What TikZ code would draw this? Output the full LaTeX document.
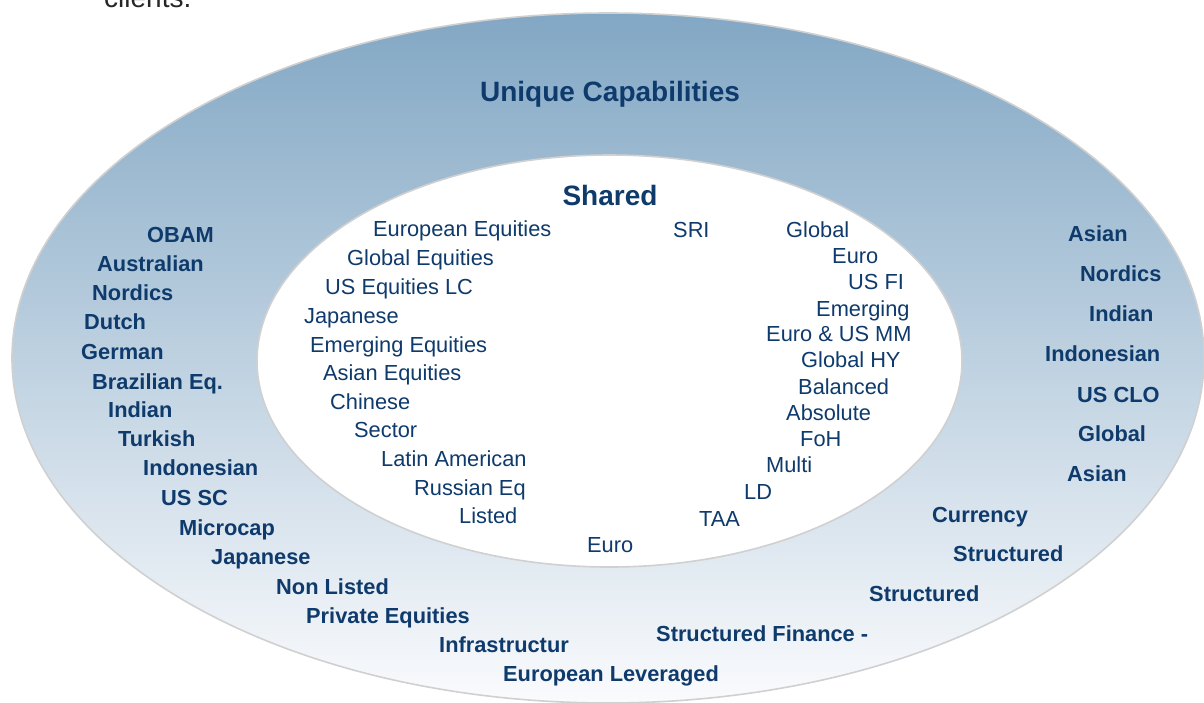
\documentclass[tikz,border=0pt]{standalone}
\usepackage{fontspec}
\setmainfont{Liberation Sans}
\usepackage{tikz}
\usetikzlibrary{positioning}
\definecolor{navy}{RGB}{14,58,108}
\definecolor{ringtop}{RGB}{130,167,196}
\definecolor{ringbot}{RGB}{250,251,253}
\definecolor{rim}{RGB}{208,208,208}
\tikzset{
    %Define style for the two rings
    ring/.style={
           draw=rim,
           line width=1.6pt},
    %Define style for labels
    innerlbl/.style={
           anchor=base west,
           inner sep=0pt,
           yshift=-7.8pt,
           text=navy,
           font=\fontsize{21.8}{24}\selectfont},
    outerlbl/.style={
           innerlbl,
           font=\fontsize{21.8}{24}\selectfont\bfseries},
    titlelbl/.style={
           anchor=base,
           inner sep=0pt,
           yshift=-10pt,
           text=navy,
           font=\fontsize{28}{32}\selectfont\bfseries}
}
\begin{document}
\begin{tikzpicture}[x=1pt,y=-1pt]
\clip (0,0) rectangle (1204,702);
\node[anchor=base west,inner sep=0pt,text={rgb,255:red,38;green,38;blue,38},
  font=\fontsize{28}{32}\selectfont] (cl) at (104,7) {clients.};
% rings
\shade[ring,top color=ringtop,bottom color=ringbot] (608,358) ellipse [x radius=596,y radius=345];
\filldraw[ring,fill=white] (609.5,361) ellipse [x radius=352.5,y radius=206];
% titles
\node[titlelbl](uc) at (610,91) {Unique Capabilities};
\node[titlelbl](sh) at (610,195) {Shared};
% shared, left
\node[innerlbl](s1) at (373,229) {European Equities};
\node[innerlbl](s2) at (347,258) {Global Equities};
\node[innerlbl](s3) at (325,287) {US Equities LC};
\node[innerlbl](s4) at (304,316) {Japanese};
\node[innerlbl](s5) at (310,345) {Emerging Equities};
\node[innerlbl](s6) at (323,373) {Asian Equities};
\node[innerlbl](s7) at (330,402) {Chinese};
\node[innerlbl](s8) at (354,430) {Sector};
\node[innerlbl](s9) at (381,459) {Latin American};
\node[innerlbl](s10) at (414,488) {Russian Eq};
\node[innerlbl](s11) at (459,516) {Listed};
\node[innerlbl](s12) at (587,545) {Euro};
% shared, right
\node[innerlbl](r1) at (673,230) {SRI};
\node[innerlbl](r2) at (786,230) {Global};
\node[innerlbl](r3) at (832,256) {Euro};
\node[innerlbl](r4) at (848,282) {US FI};
\node[innerlbl](r5) at (816,309) {Emerging};
\node[innerlbl](r6) at (766,334) {Euro \& US MM};
\node[innerlbl](r7) at (801,360) {Global HY};
\node[innerlbl](r8) at (798,387) {Balanced};
\node[innerlbl](r9) at (786,413) {Absolute};
\node[innerlbl](r10) at (800,439) {FoH};
\node[innerlbl](r11) at (766,465) {Multi};
\node[innerlbl](r12) at (744,492) {LD};
\node[innerlbl](r13) at (699,519) {TAA};
% unique, left
\node[outerlbl](u1) at (147,235) {OBAM};
\node[outerlbl](u2) at (97,264) {Australian};
\node[outerlbl](u3) at (92,293) {Nordics};
\node[outerlbl](u4) at (84,322) {Dutch};
\node[outerlbl](u5) at (81,352) {German};
\node[outerlbl](u6) at (92,382) {Brazilian Eq.};
\node[outerlbl](u7) at (108,410) {Indian};
\node[outerlbl](u8) at (118,439) {Turkish};
\node[outerlbl](u9) at (143,468) {Indonesian};
\node[outerlbl](u10) at (161,498) {US SC};
\node[outerlbl](u11) at (179,528) {Microcap};
\node[outerlbl](u12) at (211,557) {Japanese};
\node[outerlbl](u13) at (276,587) {Non Listed};
\node[outerlbl](u14) at (306,616) {Private Equities};
\node[outerlbl](u15) at (439,645) {Infrastructur};
\node[outerlbl](u16) at (503,674) {European Leveraged};
% unique, right
\node[outerlbl](v1) at (1068,234) {Asian};
\node[outerlbl](v2) at (1080,274) {Nordics};
\node[outerlbl](v3) at (1089,314) {Indian};
\node[outerlbl](v4) at (1045,354) {Indonesian};
\node[outerlbl](v5) at (1077,395) {US CLO};
\node[outerlbl](v6) at (1078,434) {Global};
\node[outerlbl](v7) at (1067,474) {Asian};
\node[outerlbl](v8) at (932,515) {Currency};
\node[outerlbl](v9) at (953,554) {Structured};
\node[outerlbl](v10) at (869,594) {Structured};
\node[outerlbl](v11) at (656,634) {Structured Finance -};
\end{tikzpicture}
\end{document}
